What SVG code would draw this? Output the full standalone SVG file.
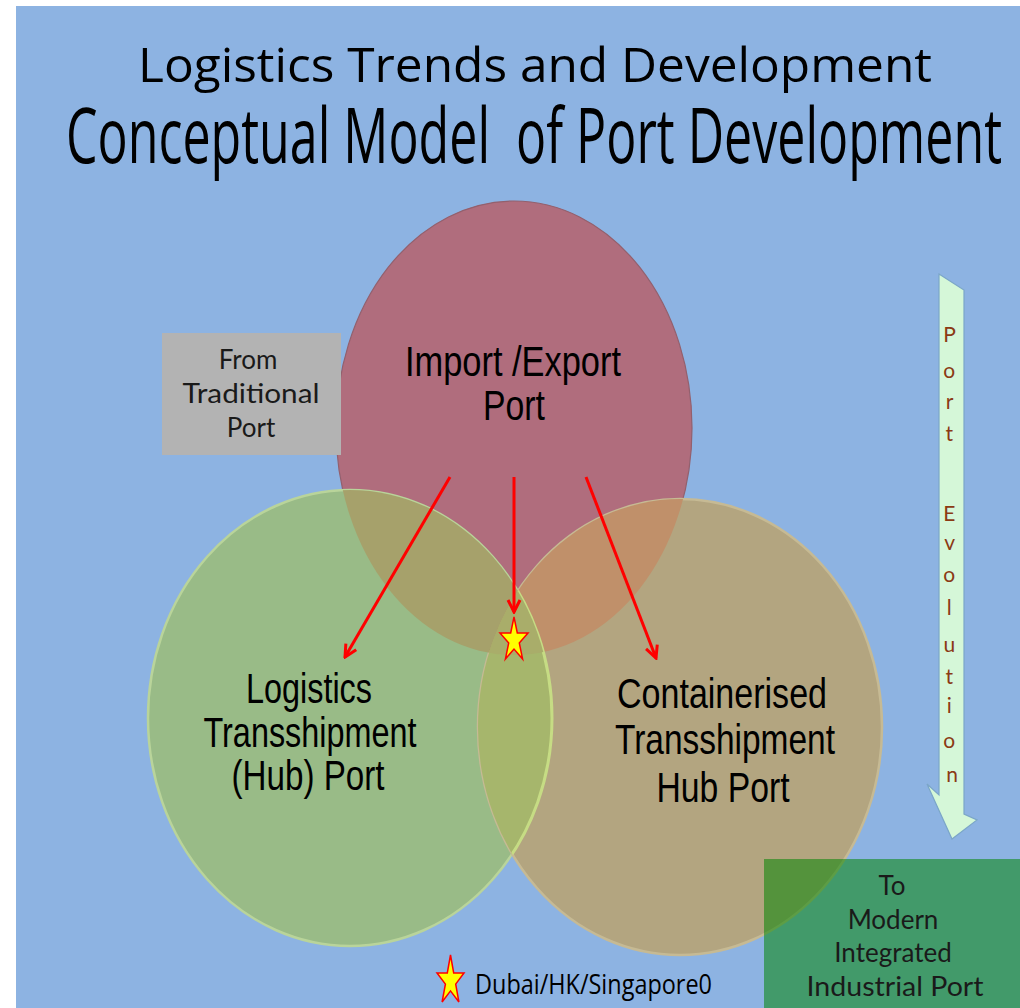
<svg xmlns="http://www.w3.org/2000/svg" width="1020" height="1008" viewBox="0 0 1020 1008">
<style>
.title{font-family:"Open Sans","Liberation Sans",sans-serif;fill:#000}
.lbl{font-family:"Liberation Sans",Arial,sans-serif;font-size:42px;fill:#000;text-anchor:middle}
.box{font-family:"Lato","Open Sans",sans-serif;font-size:26px;fill:#1a1a1a;text-anchor:middle}
.evo{font-family:"Lato","Open Sans",sans-serif;font-size:21px;fill:#8b3a14;text-anchor:middle}
.conn{stroke:#ff0000;stroke-width:3;fill:none}
</style>
<defs>
<ellipse id="eR" cx="514" cy="428" rx="178" ry="227"/>
<ellipse id="eG" cx="350" cy="718" rx="202" ry="228"/>
<ellipse id="eT" cx="680" cy="727" rx="202" ry="228"/>
<clipPath id="cR"><use href="#eR"/></clipPath>
<clipPath id="cG"><use href="#eG"/></clipPath>
<clipPath id="cT"><use href="#eT"/></clipPath>
<marker id="ah" viewBox="0 0 16 16" refX="14" refY="8" markerWidth="16" markerHeight="16" markerUnits="userSpaceOnUse" orient="auto">
<path d="M2,2 L14,8 L2,14" fill="none" stroke="#ff0000" stroke-width="3"/>
</marker>
</defs>
<rect x="0" y="0" width="1020" height="1008" fill="#ffffff"/>
<rect x="16" y="6" width="1004" height="1002" fill="#8db3e2"/>
<g id="title">
<text class="title" x="138" y="82" font-size="48" textLength="794" lengthAdjust="spacingAndGlyphs">Logistics Trends and Development</text>
<text class="title" x="66" y="163" font-size="76" textLength="936" lengthAdjust="spacingAndGlyphs" xml:space="preserve">Conceptual Model  of Port Development</text>
</g>
<g id="node-import-export">
<use href="#eR" fill="#b06d7d" stroke="#93606d" stroke-width="1.2"/>
</g>
<g id="node-logistics">
<use href="#eG" fill="#99bb87" stroke="#b9d49a" stroke-width="2.5"/>
</g>
<g id="node-containerised">
<use href="#eT" fill="#b3a580" stroke="#c6ba94" stroke-width="2.5"/>
</g>
<g id="overlaps">
<g clip-path="url(#cG)"><use href="#eR" fill="#a6a16b"/></g>
<g clip-path="url(#cT)"><use href="#eR" fill="#c0906a"/></g>
<g clip-path="url(#cT)"><use href="#eG" fill="#a6b66c" stroke="#c6dc84" stroke-width="3"/></g>
<g clip-path="url(#cR)"><g clip-path="url(#cT)"><use href="#eG" fill="#a9ad6a"/></g></g>
</g>
<g id="labels">
<text class="lbl" x="513" y="376" textLength="216" lengthAdjust="spacingAndGlyphs">Import /Export</text>
<text class="lbl" x="514" y="420" textLength="62" lengthAdjust="spacingAndGlyphs">Port</text>
<text class="lbl" x="309" y="703" textLength="126" lengthAdjust="spacingAndGlyphs">Logistics</text>
<text class="lbl" x="310" y="747" textLength="213" lengthAdjust="spacingAndGlyphs">Transshipment</text>
<text class="lbl" x="308" y="790" textLength="153" lengthAdjust="spacingAndGlyphs">(Hub) Port</text>
<text class="lbl" x="722" y="708" textLength="210" lengthAdjust="spacingAndGlyphs">Containerised</text>
<text class="lbl" x="725" y="754" textLength="220" lengthAdjust="spacingAndGlyphs">Transshipment</text>
<text class="lbl" x="723" y="802" textLength="133" lengthAdjust="spacingAndGlyphs">Hub Port</text>
</g>
<g id="connectors">
<line class="conn" x1="450" y1="477" x2="345" y2="657" marker-end="url(#ah)"/>
<line class="conn" x1="514" y1="477" x2="514" y2="612" marker-end="url(#ah)"/>
<line class="conn" x1="586" y1="477" x2="656" y2="658" marker-end="url(#ah)"/>
</g>
<g id="star-hub">
<polygon points="514,617 517.3,633 528,633 519.3,642.9 522.6,659 514,649.1 505.4,659 508.7,642.9 500,633 510.7,633" fill="#ffff00" stroke="#ff0000" stroke-width="1.5"/>
</g>
<g id="box-from">
<rect x="162" y="333" width="179" height="122" fill="#b3b3b3"/>
<text class="box" x="248" y="369">From</text>
<text class="box" x="251" y="403" textLength="137" lengthAdjust="spacingAndGlyphs">Traditional</text>
<text class="box" x="251" y="437">Port</text>
</g>
<g id="box-to">
<rect x="764" y="859" width="256" height="149" fill="#008400" fill-opacity="0.53"/>
<text class="box" x="892" y="895">To</text>
<text class="box" x="893" y="929">Modern</text>
<text class="box" x="893" y="962">Integrated</text>
<text class="box" x="895" y="996" textLength="177" lengthAdjust="spacingAndGlyphs">Industrial Port</text>
</g>
<g id="arrow-evolution">
<polygon points="939,274 964,290 964,814 977,820 952,839 927,784 939,795" fill="#d5f7d8" stroke="#7ba6c8" stroke-width="1.2"/>
<text class="evo">
<tspan x="952" y="342">P</tspan>
<tspan x="952" y="378">o</tspan>
<tspan x="952" y="409">r</tspan>
<tspan x="952" y="441">t</tspan>
<tspan x="952" y="521">E</tspan>
<tspan x="952" y="550">v</tspan>
<tspan x="952" y="582">o</tspan>
<tspan x="952" y="615">l</tspan>
<tspan x="952" y="652">u</tspan>
<tspan x="952" y="684">t</tspan>
<tspan x="952" y="713">i</tspan>
<tspan x="952" y="748">o</tspan>
<tspan x="952" y="782">n</tspan>
</text>
</g>
<g id="legend">
<polygon points="450.5,955 453.7,973 464,973 455.7,984.1 458.9,1002 450.5,990.9 442.1,1002 445.4,984.1 437,973 447.3,973" fill="#ffff00" stroke="#ff0000" stroke-width="1.5"/>
<text x="475" y="994" font-family="Open Sans, Liberation Sans, sans-serif" font-size="28" fill="#000" textLength="237" lengthAdjust="spacingAndGlyphs">Dubai/HK/Singapore0</text>
</g>
</svg>
